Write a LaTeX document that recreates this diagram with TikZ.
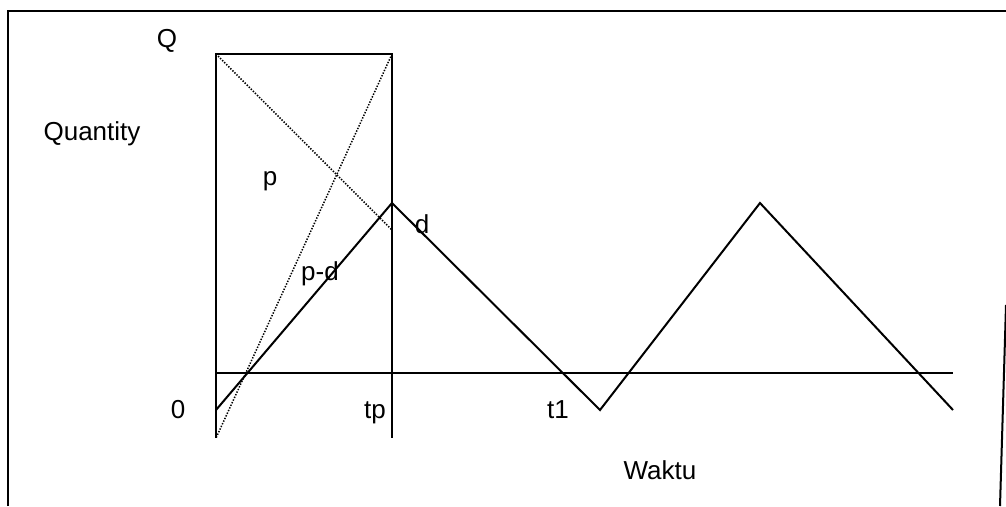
\documentclass[tikz,border=0pt]{standalone}
\usepackage{fontspec}
\setmainfont{Liberation Sans}
\begin{document}
\begin{tikzpicture}[x=1pt,y=-1pt,
  solid line/.style={line width=2pt,line cap=butt},
  dot line/.style={line width=1.5pt,dash pattern=on 1.4pt off 1.5pt},
  lbl/.style={font=\fontsize{26}{31}\selectfont,inner sep=0pt}]
\useasboundingbox (0,0) rectangle (1006,506);
% frame
\coordinate (fbl) at (8,506);
\coordinate (ftl) at (8,11);
\coordinate (ftr) at (1006,11);
\coordinate (frt) at (1006,305);
\coordinate (frb) at (1000,506);
\draw[line width=2.2pt] (fbl) -- (ftl) -- (ftr);
\draw[line width=2pt] (frt) -- (frb);
% rectangle
\coordinate (rtl) at (216,54);
\coordinate (rtr) at (392,54);
\coordinate (rbl) at (216,438);
\coordinate (rbr) at (392,438);
\draw[solid line] (rbl) -- (rtl) -- (rtr) -- (rbr);
% axis
\coordinate (ax0) at (216,373);
\coordinate (ax1) at (953,373);
\draw[solid line] (ax0) -- (ax1);
% inventory curve
\coordinate (s0) at (216,410);
\coordinate (pk1) at (392,203);
\coordinate (tr1) at (600,410);
\coordinate (pk2) at (760,203);
\coordinate (s1) at (953,410);
\draw[solid line,line join=miter] (s0) -- (pk1) -- (tr1) -- (pk2) -- (s1);
% dotted lines
\coordinate (dEnd) at (392,230);
\draw[dot line] (rtl) -- (dEnd);
\draw[dot line] (rtr) -- (rbl);
% labels
\node[lbl] (Q) at (167,41) {Q};
\node[lbl] (quantity) at (92,134) {Quantity};
\node[lbl] (p) at (270,181) {p};
\node[lbl] (d) at (422,224) {d};
\node[lbl] (pd) at (320,274) {p-d};
\node[lbl] (zero) at (178,410) {0};
\node[lbl] (tp) at (375,413) {tp};
\node[lbl] (t1) at (558,410) {t1};
\node[lbl] (waktu) at (660,470) {Waktu};
\end{tikzpicture}
\end{document}
